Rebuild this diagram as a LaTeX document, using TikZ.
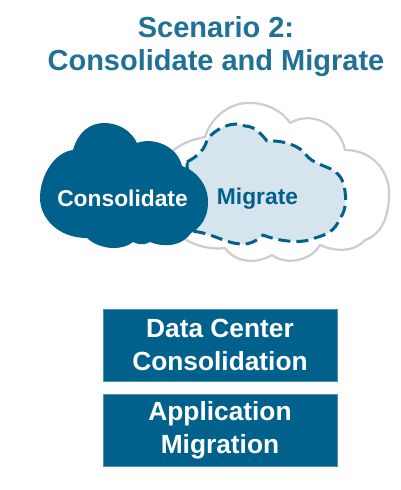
\documentclass[tikz,border=0pt]{standalone}
\usepackage{fontspec}
\setmainfont{Liberation Sans}
\definecolor{teal1}{HTML}{00628C}
\definecolor{title1}{HTML}{1F7196}
\definecolor{pale}{HTML}{D6E4ED}
\definecolor{rim}{HTML}{CDCDCD}
\tikzset{
  barbox/.style={fill=teal1,draw=teal1!70!white,line width=.6pt,minimum width=234pt,minimum height=72pt,align=center,text=white,font=\fontsize{26.3}{33}\selectfont\bfseries,inner sep=0pt},
  cloudlabel/.style={font=\fontsize{22.8}{24}\selectfont\bfseries,inner sep=0pt},
  titletext/.style={text=title1,align=center,font=\fontsize{29}{33}\selectfont\bfseries,inner sep=0pt},
}
\begin{document}
\begin{tikzpicture}[x=1pt,y=-1pt]
\useasboundingbox (0,0) rectangle (400,490);
\fill[white] (0,0) rectangle (400,490);
\node[titletext] (title) at (216,46.5) {Scenario 2:\\Consolidate and Migrate};
% outer white cloud
\draw[rim,line width=2.2pt,fill=white,line join=round]
 (165,160) .. controls (175,145) and (190,140) .. (205,137)
 .. controls (212,115) and (232,102) .. (250,103)
 .. controls (268,103) and (283,112) .. (290,123)
 .. controls (312,110) and (340,125) .. (345,150)
 .. controls (375,150) and (391,175) .. (389,197)
 .. controls (388,220) and (380,235) .. (365,240)
 .. controls (355,252) and (335,252) .. (320,245)
 .. controls (310,262) and (285,265) .. (272,255)
 .. controls (255,265) and (235,262) .. (225,248)
 .. controls (210,250) and (190,245) .. (180,235) -- cycle;
% inner dashed cloud
\draw[teal1,line width=3pt,dash pattern=on 12pt off 6pt,fill=pale,line join=round]
 (187,162) .. controls (200,155) and (205,148) .. (207,140)
 .. controls (215,128) and (235,120) .. (245,126)
 .. controls (255,126) and (262,135) .. (267,141)
 .. controls (282,140) and (300,145) .. (307,156)
 .. controls (318,168) and (335,165) .. (342,180)
 .. controls (348,195) and (346,212) .. (340,218)
 .. controls (335,232) and (325,235) .. (315,238)
 .. controls (300,245) and (275,240) .. (263,235)
 .. controls (258,240) and (250,245) .. (240,244)
 .. controls (225,243) and (210,232) .. (190,231) -- cycle;
% dark cloud
\fill[teal1]
 (73,150) .. controls (78,132) and (90,123) .. (104,123)
 .. controls (120,123) and (132,132) .. (137,143)
 .. controls (152,137) and (177,145) .. (182,166)
 .. controls (200,172) and (209,190) .. (208,203)
 .. controls (208,218) and (200,228) .. (191,233)
 .. controls (182,246) and (165,248) .. (150,242)
 .. controls (143,246) and (137,244) .. (133,242)
 .. controls (122,251) and (100,250) .. (87,238)
 .. controls (58,238) and (40,218) .. (40,198)
 .. controls (40,175) and (55,152) .. (73,150) -- cycle;
\node[cloudlabel,text=white] (consolidate) at (122.5,198) {Consolidate};
\node[cloudlabel,text=teal1] (migrate) at (257.5,199) {Migrate};
\node[barbox] (dcc) at (220,345) {Data Center\\Consolidation};
\node[barbox] (am) at (220,430.5) {Application\\Migration};
\end{tikzpicture}
\end{document}
